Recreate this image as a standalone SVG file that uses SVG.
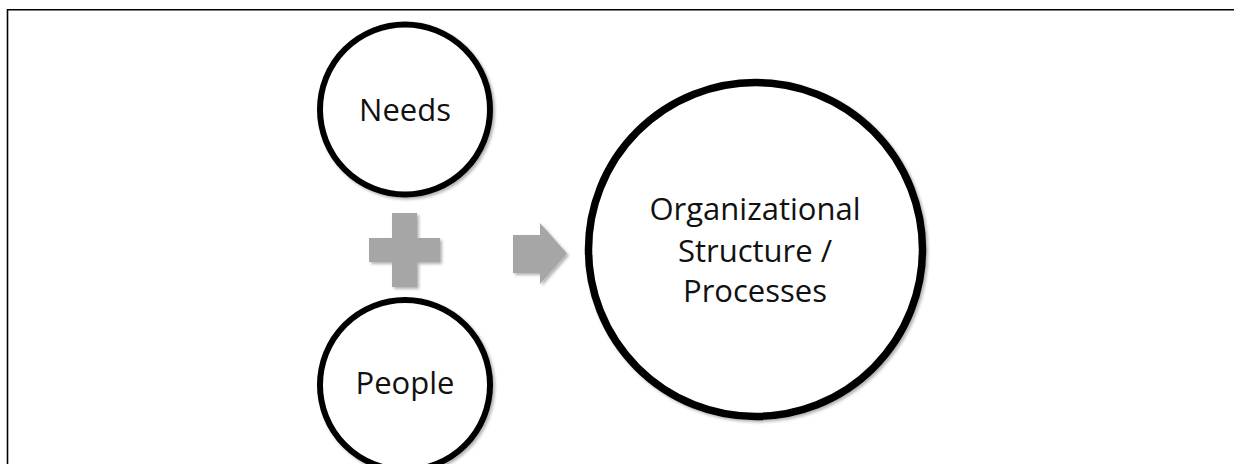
<svg xmlns="http://www.w3.org/2000/svg" width="1234" height="464" viewBox="0 0 1234 464">
  <defs>
    <filter id="shadow" x="-20%" y="-20%" width="140%" height="140%">
      <feDropShadow dx="2" dy="2" stdDeviation="1.8" flood-color="#000" flood-opacity="0.3"/>
    </filter>
    <style>
      .node { fill: #ffffff; stroke: #000000; stroke-width: 6; filter: url(#shadow); }
      .label { font-family: "Open Sans", "Liberation Sans", sans-serif; font-size: 31px; fill: #111111; text-anchor: middle; }
      .op { fill: #a6a6a6; filter: url(#shadow); }
      .frame { stroke: #000000; stroke-width: 1.6; fill: none; }
    </style>
  </defs>
  <rect width="1234" height="464" fill="#ffffff"/>
  <g id="frame">
    <path class="frame" d="M7.5 464 V9.7 H1234"/>
  </g>
  <g id="connectors">
    <path class="op" d="M392 213 H417 V238 H440 V262 H417 V287 H392 V262 H369 V238 H392 Z"/>
    <path class="op" d="M513 235 H540 V223 L567 253.5 L540 284 V273 H513 Z"/>
  </g>
  <g id="needs">
    <circle class="node" cx="405" cy="109.5" r="85"/>
    <text class="label" x="405" y="121">Needs</text>
  </g>
  <g id="people">
    <circle class="node" cx="405" cy="385" r="85"/>
    <text class="label" x="405" y="394">People</text>
  </g>
  <g id="org">
    <circle class="node" style="stroke-width:7.5" cx="755.5" cy="249.5" r="167"/>
    <text class="label" x="755" y="220">Organizational</text>
    <text class="label" x="755" y="262">Structure /</text>
    <text class="label" x="755" y="302">Processes</text>
  </g>
</svg>
